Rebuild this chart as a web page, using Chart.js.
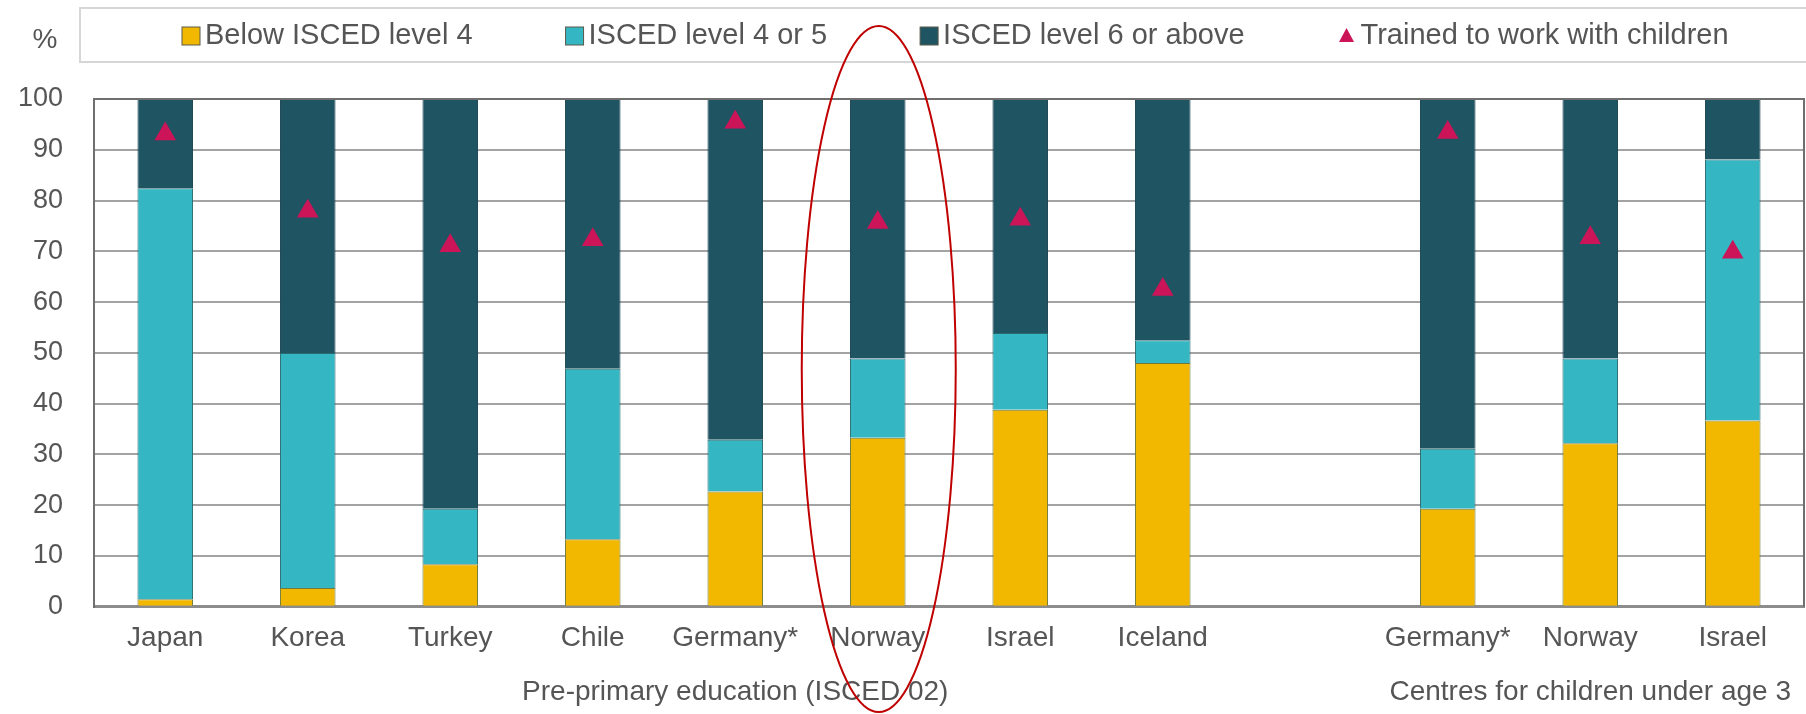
<!DOCTYPE html>
<html lang="en">
<head>
  <meta charset="UTF-8" />
  <title>Staff qualifications</title>
  <script src="https://cdn.jsdelivr.net/npm/chart.js"></script>
  <style>
    html, body { margin: 0; padding: 0; overflow: hidden; background: #fff; }
    #wrap { width: 1806px; height: 714px; }
    canvas { display: block; }
  </style>
</head>
<body>
  <div id="wrap"><canvas id="staffChart"></canvas></div>

  <script>
    // categories (empty slot separates the two groups)
    const countries = ["Japan", "Korea", "Turkey", "Chile", "Germany*", "Norway", "Israel", "Iceland", "", "Germany*", "Norway", "Israel"];
    const groupLabels = ["", "", "", "", "Pre-primary education (ISCED 02)", "", "", "", "", "", "Centres for children under age 3", ""];

    // shares of staff, %
    const belowLevel4 = [1.5, 3.7, 8.4, 13.3, 22.7, 33.3, 38.8, 48.0, null, 19.3, 32.2, 36.7];
    const level4or5   = [80.9, 46.3, 10.9, 33.6, 10.2, 15.6, 15.1, 4.5, null, 11.8, 16.7, 51.4];
    const level6up    = [17.6, 50.0, 80.7, 53.1, 67.1, 51.1, 46.1, 47.5, null, 68.9, 51.1, 11.9];
    const trained     = [93.1, 77.9, 71.1, 72.3, 95.4, 75.7, 76.3, 62.5, null, 93.4, 72.7, 69.8];

    const yTicks = [0, 10, 20, 30, 40, 50, 60, 70, 80, 90, 100];

    const FONT = "Arial, 'Liberation Sans', sans-serif";
    const TEXT = "#555555";

    // legend in a light box, "%" label, frame lines and the red ellipse
    const decor = {
      id: "decor",
      afterDraw(chart) {
        const ctx = chart.ctx;
        const area = chart.chartArea;
        ctx.save();

        // frame: top and right
        ctx.strokeStyle = "#6f6f6f";
        ctx.lineWidth = 2;
        ctx.beginPath();
        ctx.moveTo(area.left, area.top);
        ctx.lineTo(area.right, area.top);
        ctx.lineTo(area.right, area.bottom);
        ctx.stroke();

        // legend box
        ctx.strokeStyle = "#d6d6d6";
        ctx.lineWidth = 2;
        ctx.strokeRect(area.left - 14, 8, chart.width, 54);

        ctx.font = "29px " + FONT;
        ctx.textBaseline = "middle";
        ctx.textAlign = "left";
        const gap = 93, box = 18, textGap = 5;
        const items = chart.data.datasets.map(ds => ({
          text: ds.label,
          color: ds.backgroundColor,
          tri: ds.type === "line"
        }));
        const order = [1, 2, 3, 0].map(i => items[i]);
        let x = area.left + 88;
        const cy = 36;
        order.forEach(it => {
          if (it.tri) {
            ctx.fillStyle = it.color;
            ctx.beginPath();
            ctx.moveTo(x + box / 2, cy - 8);
            ctx.lineTo(x + box / 2 + 7.5, cy + 6);
            ctx.lineTo(x + box / 2 - 7.5, cy + 6);
            ctx.closePath();
            ctx.fill();
          } else {
            ctx.fillStyle = it.color;
            ctx.fillRect(x, cy - box / 2, box, box);
            ctx.strokeStyle = "#5a5a4a";
            ctx.lineWidth = 1;
            ctx.strokeRect(x, cy - box / 2, box, box);
          }
          ctx.fillStyle = TEXT;
          const w = ctx.measureText(it.text).width;
          ctx.fillText(it.text, x + box + textGap, cy);
          x += box + textGap + w + gap;
        });

        // unit label
        ctx.textAlign = "center";
        ctx.font = "28px " + FONT;
        ctx.fillText("%", area.left - 49, 40);

        // red ellipse around Norway (pre-primary)
        const cx = chart.scales.x.getPixelForValue(5);
        ctx.strokeStyle = "#c00000";
        ctx.lineWidth = 2;
        ctx.beginPath();
        ctx.ellipse(cx + 1, 369, 77, 343, 0, 0, Math.PI * 2);
        ctx.stroke();

        ctx.restore();
      }
    };

    const ctx = document.getElementById("staffChart").getContext("2d");
    new Chart(ctx, {
      type: "bar",
      data: {
        labels: countries,
        datasets: [
          {
            type: "line",
            label: "Trained to work with children",
            data: trained,
            stack: "trained",
            order: -1,
            showLine: false,
            pointStyle: "triangle",
            pointRadius: 12.5,
            pointBorderWidth: 0,
            backgroundColor: "#cc1459",
            borderColor: "#cc1459"
          },
          {
            label: "Below ISCED level 4",
            data: belowLevel4,
            backgroundColor: "#f2b800",
            borderColor: "#6f7a3c",
            borderWidth: 1
          },
          {
            label: "ISCED level 4 or 5",
            data: level4or5,
            backgroundColor: "#35b7c3",
            borderColor: "#2a6a70",
            borderWidth: 1
          },
          {
            label: "ISCED level 6 or above",
            data: level6up,
            backgroundColor: "#1f5462",
            borderColor: "#1a4350",
            borderWidth: 1
          }
        ]
      },
      options: {
        responsive: true,
        maintainAspectRatio: false,
        animation: false,
        // autoPadding would reserve room for the triangle markers at the edges
        layout: { autoPadding: false, padding: { top: 99, left: 0, right: 2, bottom: 0 } },
        datasets: { bar: { barPercentage: 0.39, categoryPercentage: 1.0 } },
        plugins: {
          legend: { display: false },
          tooltip: { enabled: false }
        },
        scales: {
          x: {
            stacked: true,
            weight: 0,
            grid: { display: false, drawTicks: false },
            border: { display: true, color: "#8c8c8c", width: 3 },
            ticks: {
              autoSkip: false,
              maxRotation: 0,
              padding: 15,
              color: TEXT,
              font: { family: FONT, size: 28 }
            }
          },
          x2: {
            type: "category",
            position: "bottom",
            labels: groupLabels,
            offset: true,
            weight: 1,
            grid: { display: false, drawTicks: false },
            border: { display: false },
            ticks: {
              autoSkip: false,
              maxRotation: 0,
              padding: 5,
              color: TEXT,
              font: { family: FONT, size: 28 }
            }
          },
          y: {
            stacked: true,
            min: 0,
            max: 100,
            afterBuildTicks: axis => { axis.ticks = yTicks.map(v => ({ value: v })); },
            afterFit: axis => { axis.width = 94; },
            grid: { color: "#a3a3a3", lineWidth: 2, drawTicks: false },
            border: { display: true, color: "#6f6f6f", width: 2 },
            ticks: {
              padding: 31,
              color: TEXT,
              font: { family: FONT, size: 27 }
            }
          }
        }
      },
      plugins: [decor]
    });
  </script>
</body>
</html>
